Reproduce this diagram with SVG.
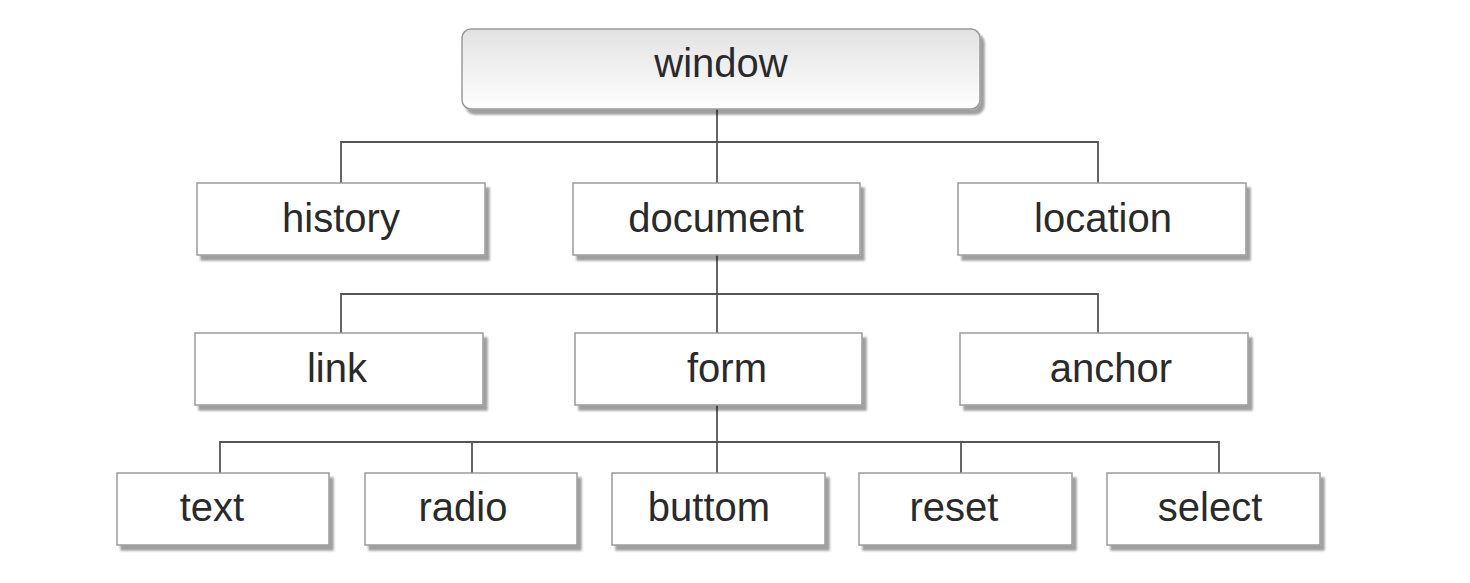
<svg xmlns="http://www.w3.org/2000/svg" width="1470" height="583" viewBox="0 0 1470 583">
<defs>
<linearGradient id="g" x1="0" y1="0" x2="0" y2="1">
<stop offset="0" stop-color="#e2e2e2"/>
<stop offset="1" stop-color="#ffffff"/>
</linearGradient>
<filter id="sh" x="-5%" y="-10%" width="115%" height="130%">
<feGaussianBlur in="SourceAlpha" stdDeviation="1"/>
<feOffset dx="4" dy="5" result="o"/>
<feComponentTransfer><feFuncA type="linear" slope="0.38"/></feComponentTransfer>
<feMerge><feMergeNode/><feMergeNode in="SourceGraphic"/></feMerge>
</filter>
</defs>
<style>
.box{fill:#fff;stroke:#9a9a9a;stroke-width:1.5;filter:url(#sh)}
.root{fill:url(#g);stroke:#9a9a9a;stroke-width:1.5;filter:url(#sh)}
.lbl{font-family:"Liberation Sans",Arial,sans-serif;font-size:40px;fill:#2a2a2a;text-anchor:middle}
.c{fill:none;stroke:#555;stroke-width:1.8}
</style>
<rect width="1470" height="583" fill="#fff"/>
<g id="connectors">
<path class="c" d="M717 109V142M341 183V142H1098V183M717 142V183"/>
<path class="c" d="M717 255V294M341 333V294H1098V333M717 294V333"/>
<path class="c" d="M717 405V442M220 473V442H1219V473M472 442V473M717 442V473M961 442V473"/>
</g>
<g id="window"><rect class="root" x="462" y="29" width="518" height="80" rx="9"/><text class="lbl" x="721" y="77">window</text></g>
<g id="history"><rect class="box" x="197" y="183" width="288" height="72"/><text class="lbl" x="341" y="232">history</text></g>
<g id="document"><rect class="box" x="573" y="183" width="287" height="72"/><text class="lbl" x="716" y="232">document</text></g>
<g id="location"><rect class="box" x="958" y="183" width="288" height="72"/><text class="lbl" x="1103" y="232">location</text></g>
<g id="link"><rect class="box" x="195" y="333" width="288" height="72"/><text class="lbl" x="337" y="382">link</text></g>
<g id="form"><rect class="box" x="575" y="333" width="287" height="72"/><text class="lbl" x="727" y="382">form</text></g>
<g id="anchor"><rect class="box" x="960" y="333" width="288" height="72"/><text class="lbl" x="1111" y="382">anchor</text></g>
<g id="text"><rect class="box" x="117" y="473" width="212" height="72"/><text class="lbl" x="212" y="521">text</text></g>
<g id="radio"><rect class="box" x="365" y="473" width="212" height="72"/><text class="lbl" x="463" y="521">radio</text></g>
<g id="buttom"><rect class="box" x="612" y="473" width="213" height="72"/><text class="lbl" x="709" y="521">buttom</text></g>
<g id="reset"><rect class="box" x="859" y="473" width="213" height="72"/><text class="lbl" x="954" y="521">reset</text></g>
<g id="select"><rect class="box" x="1107" y="473" width="213" height="72"/><text class="lbl" x="1210" y="521">select</text></g>
</svg>
